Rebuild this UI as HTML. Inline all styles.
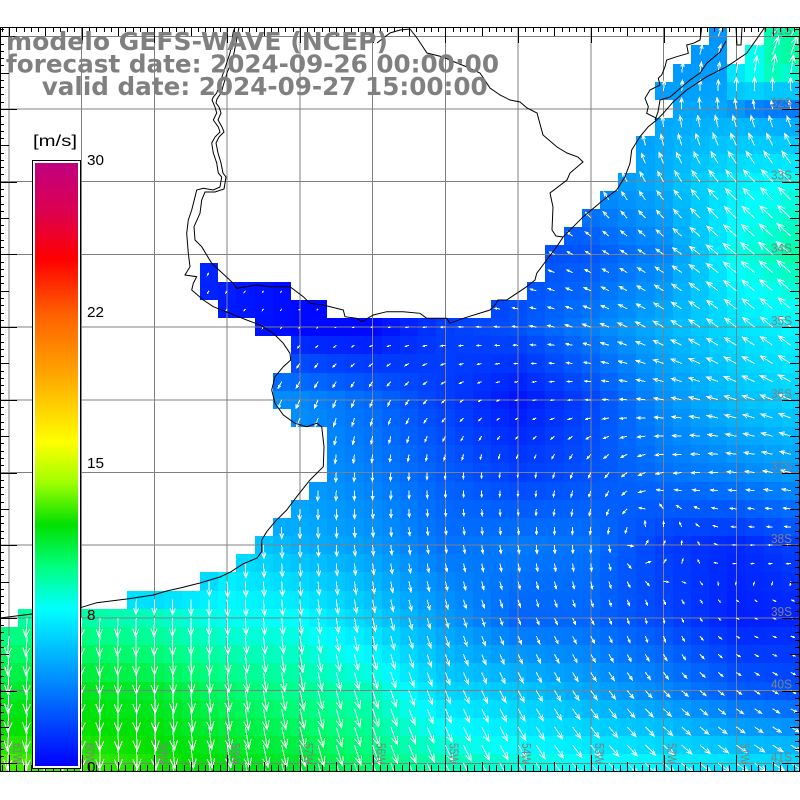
<!DOCTYPE html>
<html><head><meta charset="utf-8">
<style>
html,body{margin:0;padding:0;background:#fff;}
svg{display:block;}
</style></head>
<body>
<svg id="s" xmlns="http://www.w3.org/2000/svg" width="800" height="800" viewBox="0 0 800 800">
<defs>
<clipPath id="mc"><rect x="0" y="27" width="800" height="745"/></clipPath>
<linearGradient id="cb" x1="0" y1="0" x2="0" y2="1">
<stop offset="0" stop-color="rgb(192,0,128)"/>
<stop offset="0.08" stop-color="rgb(220,0,80)"/>
<stop offset="0.16" stop-color="rgb(255,0,0)"/>
<stop offset="0.25" stop-color="rgb(255,96,0)"/>
<stop offset="0.35" stop-color="rgb(255,165,0)"/>
<stop offset="0.463" stop-color="rgb(255,255,0)"/>
<stop offset="0.53" stop-color="rgb(160,255,0)"/>
<stop offset="0.60" stop-color="rgb(0,224,0)"/>
<stop offset="0.67" stop-color="rgb(0,255,128)"/>
<stop offset="0.74" stop-color="rgb(0,255,255)"/>
<stop offset="0.87" stop-color="rgb(0,128,255)"/>
<stop offset="1" stop-color="rgb(0,0,255)"/>
</linearGradient>
</defs>
<rect width="800" height="800" fill="#fff"/>
<g clip-path="url(#mc)">
<g id="cells" shape-rendering="crispEdges"></g>
<g id="grid" stroke="#808080" stroke-width="1" shape-rendering="crispEdges"></g>
<path id="arrows" fill="none" stroke="#fff" stroke-width="1" shape-rendering="crispEdges"/>
<g fill="none" stroke="#000" stroke-width="1">
<polyline points="0,618 32,614 81.7,607.3 96.7,602.7 126.7,599 153.3,595 166.7,591 180,588 200,583 220,577 231,571.7 243,564 257,558 261.7,551.7 261.7,540 266.7,531.7 275,521.7 286.7,510 296.7,496.7 310,480 323.3,466.7 324,446.7 321.7,426.7 316.7,423.3 306.7,426.7 295,423.3 283.3,415 275,403.3 271.7,390 275,376.7 283.3,366.7 290.7,360 290,353.3 283.3,343.3 273.3,333.3 260,325 246.7,320 230,313.3 213.3,306.7 203.3,300 191.7,290 193.3,283.3 196.7,276.7 185,275 190,266.7 188.3,253.3 186.7,233.3 188.3,220 191.7,210 195,197 196.7,190 203.3,188.3 213.3,190 220,187 221.7,177 218.3,173 216.7,163 213.3,153 211.7,143 215,137 220,132 218.3,127 213.3,120 216.7,113 215,107 212,100 213.3,97 216.7,93 220,83 223.3,73 226.7,63 230,53 231.7,43 233,33 235,27"/>
<polyline points="239,27 236,43 234,53 231,63 227,73 224,83 221,93 217,99 216,103 219,107 221,113 218,120 222,127 224,132 219,137 216,143 218,153 221,163 223,173 226,177 224,189 215,192 205,192 201.7,200 200,213.3 194,226.7 195,240 201.7,246.7 211.7,263.3 233.3,283.3 236.7,288.3 256.7,285 270,286.7 290,286.7 303.3,296.7 310,303.3 323.3,305 343.3,310 345,316.7 356.7,318.3 361.7,321.7 373.3,315 386.7,311.7 403.3,311.7 420,313.3 426.7,318.3 446.7,318.3 450,323.3 463.3,318.3 490,310 495,305 498,300 506.7,300 526.7,286.7 535,280 536.7,273.3 546.7,260 556.7,246.7 563.3,236.7 583.3,216.7 603.3,200 616.7,190 625,176.7 630,163.3 631.7,150 640,136.7 648.3,126.7 656.7,120 663.3,113.3 673.3,101.7 686.7,90 706.7,76.7 726.7,66.7 746.7,53.3 765,27"/>
<polyline points="377,43 390,33 400,30 410,29 417,38 427,53 443,57 457,63 467,67 480,73 490,88 500,95 510,100 520,102 527,108 537,113 543,135 557,147 567,153 578,157 583,162 570,173 567,180 550,193 553,207 552,230 556,236 563,237"/>
<polyline points="726,41 720,52 707,63 700,73 690,80 670,97 660,100 658,112 655,120"/>
<polyline points="701.7,28 700,40 693.3,43.3 686.7,45 688.3,53.3 676.7,56.7 666.7,60 665,66.7 661.7,75 658.3,78.3 660,85 650,90 645,98.3 648.3,106.7 646.7,113.3 656.7,118.3"/>
<polyline points="736,28 737,45 741,45 742,28"/>
</g>
<g id="latlab" fill="#808080" font-family="Liberation Sans, sans-serif" font-size="13"></g>
</g>
<g id="ticks" stroke="#000" stroke-width="1" shape-rendering="crispEdges"></g>
<g id="lonlab" fill="#808080" font-family="Liberation Sans, sans-serif" font-size="13"></g>

<!-- colorbar -->
<rect x="32.5" y="160.5" width="48" height="608" fill="#fff" stroke="#000" stroke-width="1"/>
<rect x="35" y="163" width="43" height="603" fill="url(#cb)"/>
<g fill="#000" font-family="Liberation Sans, sans-serif" font-size="15">
<text x="33" y="146" font-size="16" textLength="44" lengthAdjust="spacingAndGlyphs">[m/s]</text>
<text x="87" y="165" textLength="17" lengthAdjust="spacingAndGlyphs">30</text>
<text x="87" y="317" textLength="17" lengthAdjust="spacingAndGlyphs">22</text>
<text x="87" y="468" textLength="17" lengthAdjust="spacingAndGlyphs">15</text>
<text x="87" y="620" textLength="8.5" lengthAdjust="spacingAndGlyphs">8</text>
<text x="87" y="772" textLength="8.5" lengthAdjust="spacingAndGlyphs">0</text>
</g>

<!-- title -->
<g fill="#808080" font-family="DejaVu Sans, Liberation Sans, sans-serif" font-weight="bold" font-size="24.7">
<text x="6" y="50" textLength="382" lengthAdjust="spacingAndGlyphs">modelo GEFS-WAVE (NCEP)</text>
<text x="6" y="72.7" textLength="493" lengthAdjust="spacingAndGlyphs">forecast date: 2024-09-26 00:00:00</text>
<text x="41.7" y="95" textLength="446" lengthAdjust="spacingAndGlyphs">valid date: 2024-09-27 15:00:00</text>
</g>
</svg>
<script>
(function(){
var V=[
 [1,1,1,1,1,1,1,2,4,4.4,5,12],
 [1,1,1,1,1,1,1,2,4,5.4,5.5,4.5],
 [1,1,1,1,1,1,1,2.5,4.5,5.8,7.7,8.8],
 [1,1,2,1,0.3,0.3,0.5,2.5,2.8,4.4,8.6,10],
 [1,1,1.5,0.8,0.3,0.3,2.0,2.6,4.1,5.8,7.3,8.3],
 [1,1,1,5,4.5,3.4,2,0.7,2.3,4.7,6.2,7],
 [1,1,1,1,5,4.1,3,2,2.7,3.7,4.4,5.2],
 [1,1,1,7,5.8,5,3.7,4,3.7,2,1.3,2.3],
 [9.8,9.7,9.3,8.5,8.3,6.8,5,3.3,3.3,2.3,1,1.2],
 [11.5,11.8,11.5,10.6,10,9.3,7,6.5,5.4,4.4,3,2.5],
 [13,12.8,12.5,12,11.5,10.5,9.5,8.8,8.3,7.9,7.3,6.8]
];
var T=[
 [270,270,270,270,270,270,270,270,280,285,295,300],
 [270,270,270,270,270,270,270,270,268,272,262,258],
 [250,250,250,250,250,250,250,245,245,240,228,225],
 [120,120,120,120,125,130,150,200,210,215,220,222],
 [120,120,120,125,135,170,180,188,200,210,218,222],
 [110,110,110,110,115,110,140,165,180,190,198,205],
 [95,95,95,95,95,92,92,95,115,170,185,195],
 [88,88,88,88,88,85,80,82,90,290,185,180],
 [95,93,92,88,84,78,72,68,65,80,30,10],
 [93,92,88,84,78,72,68,62,55,45,35,28],
 [95,92,85,80,75,70,65,58,50,42,35,30]
];
var M=[
 [[39,39],[42,43]],[[38,39],[41,43]],[[37,43]],[[36,43]],[[37,43]],[[36,43]],
 [[35,43]],[[35,43]],[[34,43]],[[33,43]],[[32,43]],[[31,43]],[[30,43]],
 [[11,11],[30,43]],[[11,15],[29,43]],[[12,17],[27,43]],
 [[14,43]],[[16,43]],[[16,43]],[[15,43]],[[15,43]],[[16,43]],
 [[18,43]],[[18,43]],[[18,43]],[[17,43]],[[16,43]],[[15,43]],
 [[14,43]],[[13,43]],[[11,43]],[[7,43]],[[1,43]]
];
var OV={'0,42':9.5,'0,43':9.7,'1,41':8.5,'1,42':9.5,'1,43':9.7,'2,40':7.5,'2,41':8.5,'2,42':9.3,'2,43':9,
 '3,40':6.5,'3,41':6.8,'3,42':6.5,'3,43':6.5,'4,40':5,'4,41':4.3,'4,42':4,'4,43':4};
function bil(A,i,j){
 i=Math.max(0,Math.min(11,i)); j=Math.max(0,Math.min(10,j));
 var i0=Math.min(10,Math.floor(i)), j0=Math.min(9,Math.floor(j));
 var a=i-i0,b=j-j0;
 return A[j0][i0]*(1-a)*(1-b)+A[j0][i0+1]*a*(1-b)+A[j0+1][i0]*(1-a)*b+A[j0+1][i0+1]*a*b;
}
var C=T.map(function(r){return r.map(function(a){return Math.cos(a*Math.PI/180);});});
var S=T.map(function(r){return r.map(function(a){return Math.sin(a*Math.PI/180);});});
var stops=[[0,0,0,255],[.13,0,128,255],[.26,0,255,255],[.33,0,255,128],[.40,0,224,0],[.47,160,255,0],[.537,255,255,0],[.65,255,165,0],[.75,255,96,0],[.84,255,0,0],[.92,220,0,80],[1,192,0,128]];
function color(v){
 var f = v<=8? v/32 : v<=15? .25+(v-8)/28 : v<=22? .5+(v-15)/28 : .75+(v-22)/32;
 f=Math.max(0,Math.min(1,f));
 for(var k=1;k<stops.length;k++){
  if(f<=stops[k][0]){
   var a=stops[k-1], b=stops[k], t=(f-a[0])/(b[0]-a[0]);
   return 'rgb('+Math.round(a[1]+(b[1]-a[1])*t)+','+Math.round(a[2]+(b[2]-a[2])*t)+','+Math.round(a[3]+(b[3]-a[3])*t)+')';
  }
 }
 return 'rgb(192,0,128)';
}
function f1(x){return x.toFixed(1);}
var CW=800/44, RH=18.175, Y0=27.2;
var html='', path='';
var ang=22*Math.PI/180, ca=Math.cos(ang), sa=Math.sin(ang);
for(var r=0;r<41;r++){
 var ranges = r<M.length? M[r] : [[0,43]];
 for(var q=0;q<ranges.length;q++){
  for(var c=ranges[q][0];c<=ranges[q][1];c++){
   var i=c/4, j=r/4;
   var v=bil(V,i,j);
   var key=r+','+c; if(OV.hasOwnProperty(key)) v=OV[key];
   var x0=Math.round(c*CW), x1=Math.round((c+1)*CW), y0=Math.round(Y0+r*RH), y1=Math.round(Y0+(r+1)*RH);
   html+='<rect x="'+x0+'" y="'+y0+'" width="'+(x1-x0)+'" height="'+(y1-y0)+'" fill="'+color(v)+'"/>';
   var dx=bil(C,i,j), dy=bil(S,i,j), n=Math.hypot(dx,dy)||1; dx/=n; dy/=n;
   var cx=9+c*CW, cy=36.3+r*RH;
   var L=1.9*v+0.8;
   var tx=cx+dx*L, ty=cy+dy*L, h=0.45*L;
   var bx=-dx, by=-dy;
   var h1x=tx+h*(bx*ca-by*sa), h1y=ty+h*(bx*sa+by*ca);
   var h2x=tx+h*(bx*ca+by*sa), h2y=ty+h*(-bx*sa+by*ca);
   path+='M'+f1(cx)+' '+f1(cy)+'L'+f1(tx)+' '+f1(ty)+'M'+f1(h1x)+' '+f1(h1y)+'L'+f1(tx)+' '+f1(ty)+'L'+f1(h2x)+' '+f1(h2y);
  }
 }
}
document.getElementById('cells').innerHTML=html;
document.getElementById('arrows').setAttribute('d',path);
var g='';
for(var k=0;k<=10;k++){
 var x=9+72.73*k; g+='<line x1="'+x.toFixed(1)+'" y1="27" x2="'+x.toFixed(1)+'" y2="772"/>';
 var y=36.3+72.7*k; g+='<line x1="0" y1="'+y.toFixed(1)+'" x2="800" y2="'+y.toFixed(1)+'"/>';
}
document.getElementById('grid').innerHTML=g;
var t='<line x1="0" y1="27.5" x2="800" y2="27.5"/><line x1="0" y1="771.5" x2="800" y2="771.5"/><line x1="0.5" y1="27" x2="0.5" y2="772"/><line x1="799.5" y1="27" x2="799.5" y2="772"/>';
for(var n=-2;n<112;n++){
 var x=9+7.273*n; if(x<0||x>800) continue;
 var mj=(n%10===0), hf=(n%5===0);
 var lt=mj?16:(hf?9:5), lb=mj?17:(hf?10:7);
 var xs=(Math.round(x)+0.5);
 t+='<line x1="'+xs+'" y1="27" x2="'+xs+'" y2="'+(27+lt)+'"/>';
 t+='<line x1="'+xs+'" y1="772" x2="'+xs+'" y2="'+(772-lb)+'"/>';
}
for(var n=-2;n<106;n++){
 var y=36.3+7.27*n; if(y<27||y>772) continue;
 var mj=(n%10===0), hf=(n%5===0);
 var ll=mj?17:(hf?9:4), lr=mj?18:(hf?10:5);
 var ys=(Math.round(y)+0.5);
 t+='<line x1="0" y1="'+ys+'" x2="'+ll+'" y2="'+ys+'"/>';
 t+='<line x1="800" y1="'+ys+'" x2="'+(800-lr)+'" y2="'+ys+'"/>';
}
document.getElementById('ticks').innerHTML=t;
var la='';
for(var k=0;k<=10;k++){
 var y=36.3+72.7*k-2;
 la+='<text x="771" y="'+y.toFixed(1)+'" textLength="21" lengthAdjust="spacingAndGlyphs">'+(31+k)+'S</text>';
}
document.getElementById('latlab').innerHTML=la;
var lo='';
for(var k=0;k<=10;k++){
 var x=13+72.73*k;
 lo+='<text transform="translate('+x.toFixed(1)+',743) rotate(90)" x="0" y="0" textLength="21" lengthAdjust="spacingAndGlyphs">'+(61-k)+'W</text>';
}
document.getElementById('lonlab').innerHTML=lo;
})();
</script>
</body></html>
